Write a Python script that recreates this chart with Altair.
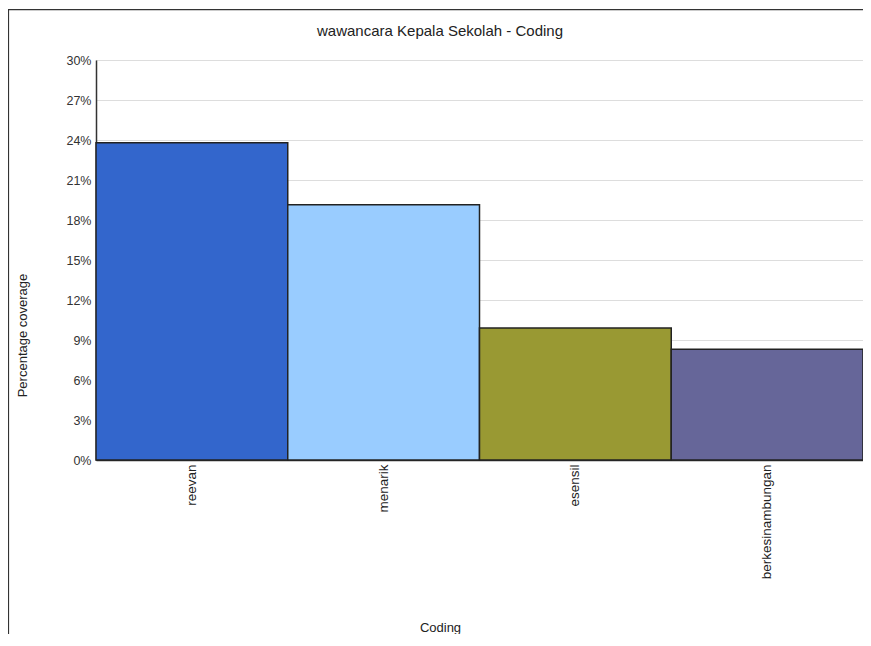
import altair as alt
import pandas as pd

categories = ["reevan", "menarik", "esensil", "berkesinambungan"]
coverage = [0.238, 0.1915, 0.099, 0.083]
colors = ["#3366CC", "#99CCFF", "#999933", "#666699"]
chart_title = "wawancara Kepala Sekolah - Coding"

df = pd.DataFrame({"Coding": categories, "coverage": coverage})
W, H = 767, 400
FONT = "Liberation Sans"

bars = alt.Chart(df).mark_bar(stroke="#222222", strokeWidth=1.5).encode(
    x=alt.X(
        "Coding:N",
        sort=categories,
        scale=alt.Scale(paddingInner=0, paddingOuter=0),
        axis=alt.Axis(
            title="Coding",
            labelAngle=270,
            labelFont=FONT,
            labelFontSize=13.5,
            labelColor="#222222",
            labelPadding=4,
            ticks=False,
            domainColor="#333333",
            domainWidth=1.5,
            titleFont=FONT,
            titleFontSize=13,
            titleFontWeight="normal",
            titleColor="#222222",
            titleX=344,
            titleY=167,
            titleBaseline="middle",
            titleAlign="center",
        ),
    ),
    y=alt.Y(
        "coverage:Q",
        scale=alt.Scale(domain=[0, 0.30], nice=False),
        axis=alt.Axis(
            title="Percentage coverage",
            format=".0%",
            values=[0, 0.03, 0.06, 0.09, 0.12, 0.15, 0.18, 0.21, 0.24, 0.27, 0.30],
            labelFont=FONT,
            labelFontSize=12.5,
            labelColor="#333333",
            labelPadding=5,
            ticks=False,
            domainColor="#333333",
            domainWidth=1.5,
            grid=True,
            gridColor="#bbbbbb",
            gridDash=[1, 1],
            gridWidth=1,
            titleFont=FONT,
            titleFontSize=13,
            titleFontWeight="normal",
            titleColor="#222222",
            titleAngle=270,
            titleX=-74,
            titleY=275,
            titleAlign="center",
            titleBaseline="middle",
        ),
    ),
    color=alt.Color("Coding:N", scale=alt.Scale(domain=categories, range=colors), legend=None),
)

one = alt.Data(values=[{"a": 1}])
two = alt.Data(values=[{"b": 2}])

frame_left = alt.Chart(one).mark_rule(stroke="#333333", strokeWidth=1.2).encode(
    x=alt.value(-87.5),
    x2=alt.value(-87.5),
    y=alt.value(-50.5),
    y2=alt.value(H + 200),
)

frame_top = alt.Chart(two).mark_rect(fill="#333333", strokeWidth=0).encode(
    x=alt.value(-88),
    x2=alt.value(W),
    y=alt.value(-51),
    y2=alt.value(-49.8),
)

title_text = alt.Chart(one).mark_text(
    text=chart_title,
    font=FONT,
    fontSize=15,
    color="#222222",
    align="center",
    baseline="middle",
).encode(
    x=alt.value(344),
    y=alt.value(-29),
)

chart = alt.layer(bars, frame_left, frame_top, title_text).properties(
    width=W,
    height=H,
    autosize=alt.AutoSizeParams(type="none"),
    padding={"left": 88, "top": 52, "right": 0, "bottom": 174},
).configure_view(strokeWidth=0)

chart.save("out.html", embed_options={"renderer": "svg", "actions": False})
